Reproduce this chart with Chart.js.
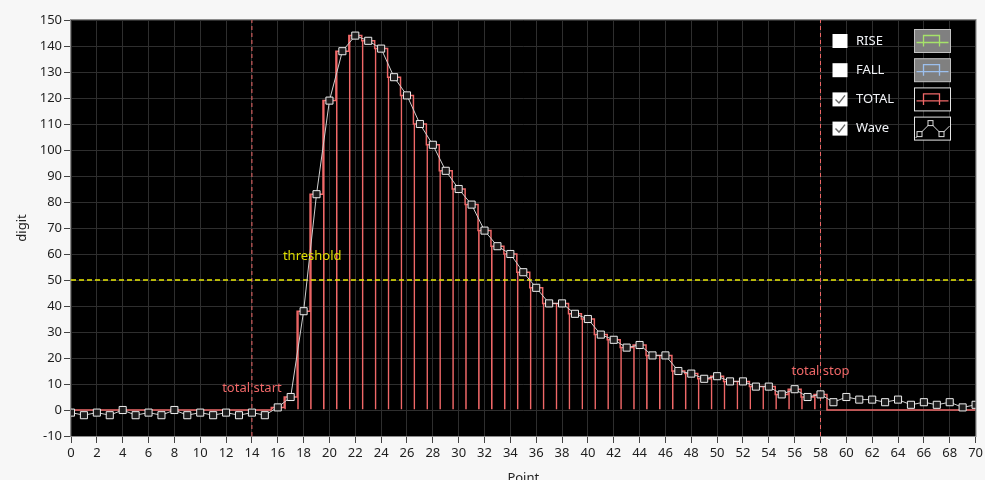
<!DOCTYPE html>
<html>
<head>
<meta charset="utf-8">
<script src="https://cdn.jsdelivr.net/npm/chart.js@4.4.1/dist/chart.umd.min.js"></script>
<style>
  html, body { margin: 0; padding: 0; background: #f7f7f7; }
  #wrap { width: 985px; height: 480px; }
</style>
</head>
<body>
<div id="wrap"><canvas id="chart" width="985" height="480"></canvas></div>
<script>
// x positions (Point)
const points = [
  0, 1, 2, 3, 4, 5, 6, 7, 8, 9,
  10, 11, 12, 13, 14, 15, 16, 17, 18, 19,
  20, 21, 22, 23, 24, 25, 26, 27, 28, 29,
  30, 31, 32, 33, 34, 35, 36, 37, 38, 39,
  40, 41, 42, 43, 44, 45, 46, 47, 48, 49,
  50, 51, 52, 53, 54, 55, 56, 57, 58, 59,
  60, 61, 62, 63, 64, 65, 66, 67, 68, 69,
  70
];

// raw waveform (digit)
const waveValues = [
  -1, -2, -1, -2, 0, -2, -1, -2, 0, -2,
  -1, -2, -1, -2, -1, -2, 1, 5, 38, 83,
  119, 138, 144, 142, 139, 128, 121, 110, 102, 92,
  85, 79, 69, 63, 60, 53, 47, 41, 41, 37,
  35, 29, 27, 24, 25, 21, 21, 15, 14, 12,
  13, 11, 11, 9, 9, 6, 8, 5, 6, 3,
  5, 4, 4, 3, 4, 2, 3, 2, 3, 1,
  2
];

// TOTAL integration window (zero outside start..stop)
const totalValues = [
  0, 0, 0, 0, 0, 0, 0, 0, 0, 0,
  0, 0, 0, 0, 0, 0, 1, 5, 38, 83,
  119, 138, 144, 142, 139, 128, 121, 110, 102, 92,
  85, 79, 69, 63, 60, 53, 47, 41, 41, 37,
  35, 29, 27, 24, 25, 21, 21, 15, 14, 12,
  13, 11, 11, 9, 9, 6, 8, 5, 6, 0,
  0, 0, 0, 0, 0, 0, 0, 0, 0, 0,
  0
];

const thresholdValue = 50;
const totalStart = 14;
const totalStop = 58;

const legendLabels = ['RISE', 'FALL', 'TOTAL', 'Wave'];
const legendChecked = [false, false, true, true];

const RED = '#f06868';
const FONT = '"Noto Sans", "Open Sans", sans-serif';

const panelPlugin = {
  id: 'panel',
  beforeDraw(chart) {
    const { ctx, chartArea: a } = chart;
    ctx.save();
    ctx.fillStyle = '#f7f7f7';
    ctx.fillRect(0, 0, chart.width, chart.height);
    ctx.fillStyle = '#000';
    ctx.fillRect(a.left, a.top, a.right - a.left, a.bottom - a.top);
    ctx.restore();
  },
  afterDatasetsDraw(chart) {
    const { ctx, scales: { x, y } } = chart;
    ctx.save();
    ctx.font = '13px ' + FONT;
    ctx.textBaseline = 'middle';
    ctx.fillStyle = '#dede00';
    ctx.textAlign = 'left';
    ctx.fillText('threshold', x.getPixelForValue(16.4), y.getPixelForValue(thresholdValue) - 24);
    ctx.fillStyle = RED;
    ctx.textAlign = 'center';
    ctx.fillText('total start', x.getPixelForValue(totalStart), y.getPixelForValue(8.5));
    ctx.fillText('total stop', x.getPixelForValue(totalStop), y.getPixelForValue(15));
    ctx.restore();
  },
  afterDraw(chart) {
    const { ctx, chartArea: a } = chart;
    ctx.save();
    // plot frame
    ctx.strokeStyle = '#8c8c8c';
    ctx.lineWidth = 1;
    ctx.strokeRect(a.left - 0.5, a.top - 0.5, a.right - a.left + 1, a.bottom - a.top + 1);

    // axis titles
    ctx.fillStyle = '#222';
    ctx.font = '13px ' + FONT;
    ctx.textAlign = 'center';
    ctx.textBaseline = 'middle';
    ctx.fillText('Point', (a.left + a.right) / 2, 478);
    ctx.save();
    ctx.translate(22, (a.top + a.bottom) / 2);
    ctx.rotate(-Math.PI / 2);
    ctx.fillText('digit', 0, 0);
    ctx.restore();

    // legend: checkbox + label + plot icon
    const rowH = 29.2;
    legendLabels.forEach((label, i) => {
      const cy = 41 + i * rowH;
      // checkbox
      ctx.fillStyle = '#fff';
      ctx.fillRect(832.5, cy - 7, 15, 14);
      if (legendChecked[i]) {
        ctx.strokeStyle = '#666';
        ctx.lineWidth = 1.4;
        ctx.beginPath();
        ctx.moveTo(835.5, cy);
        ctx.lineTo(839, cy + 3.5);
        ctx.lineTo(845, cy - 4);
        ctx.stroke();
      }
      // label
      ctx.fillStyle = '#f2f4f8';
      ctx.font = '13px ' + FONT;
      ctx.textAlign = 'left';
      ctx.fillText(label, 856, cy);
      // icon
      const bx = 914.5, by = cy - 11.5, bw = 36, bh = 23;
      const grey = i < 2;
      ctx.fillStyle = grey ? '#808080' : '#000';
      ctx.fillRect(bx, by, bw, bh);
      ctx.strokeStyle = grey ? '#c4c4c4' : '#e6e6e6';
      ctx.lineWidth = 1;
      ctx.strokeRect(bx, by, bw, bh);
      if (i < 3) {
        ctx.strokeStyle = ['#a6e36a', '#9cc0ee', RED][i];
        ctx.lineWidth = 1.3;
        ctx.beginPath();
        ctx.moveTo(bx + 2, by + 13);
        ctx.lineTo(bx + 34, by + 13);
        ctx.moveTo(bx + 9, by + 17);
        ctx.lineTo(bx + 9, by + 6);
        ctx.lineTo(bx + 25, by + 6);
        ctx.lineTo(bx + 25, by + 17);
        ctx.stroke();
      } else {
        ctx.strokeStyle = '#ddd';
        ctx.lineWidth = 1;
        ctx.beginPath();
        ctx.moveTo(bx + 1, by + 21);
        ctx.lineTo(bx + 5, by + 17);
        ctx.lineTo(bx + 16, by + 6);
        ctx.lineTo(bx + 27, by + 17);
        ctx.lineTo(bx + 35, by + 9);
        ctx.stroke();
        ctx.fillStyle = '#000';
        [[5, 17], [16, 6], [27, 17]].forEach(([dx, dy]) => {
          ctx.fillRect(bx + dx - 2.5, by + dy - 2.5, 5, 5);
          ctx.strokeRect(bx + dx - 2.5, by + dy - 2.5, 5, 5);
        });
      }
    });
    ctx.restore();
  }
};

const ctx = document.getElementById('chart').getContext('2d');

new Chart(ctx, {
  type: 'line',
  data: {
    labels: points,
    datasets: [
      {
        label: 'Wave',
        data: waveValues,
        borderColor: '#d0d0d0',
        borderWidth: 1,
        pointStyle: 'rect',
        pointRadius: 5,
        pointBorderColor: '#eeeeee',
        pointBackgroundColor: '#1c1c1c',
        pointBorderWidth: 1,
        order: 0,
      },
      {
        label: 'threshold',
        data: [{ x: 0, y: thresholdValue }, { x: 70, y: thresholdValue }],
        borderColor: '#eaea00',
        borderWidth: 1.5,
        borderDash: [5, 3],
        pointRadius: 0,
        order: 1,
      },
      {
        label: 'total start',
        data: [{ x: totalStart, y: -10 }, { x: totalStart, y: 150 }],
        borderColor: RED,
        borderWidth: 1,
        borderDash: [4, 3],
        pointRadius: 0,
        order: 1,
      },
      {
        label: 'total stop',
        data: [{ x: totalStop, y: -10 }, { x: totalStop, y: 150 }],
        borderColor: RED,
        borderWidth: 1,
        borderDash: [4, 3],
        pointRadius: 0,
        order: 1,
      },
      {
        label: 'TOTAL',
        data: totalValues,
        borderColor: RED,
        borderWidth: 1.5,
        stepped: 'middle',
        pointRadius: 0,
        order: 2,
      },
      {
        type: 'bar',
        label: 'TOTAL bars',
        data: totalValues,
        borderColor: RED,
        backgroundColor: 'rgba(0,0,0,0)',
        borderWidth: { left: 1.6, right: 0, top: 0, bottom: 0 },
        inflateAmount: 0,
        barPercentage: 1,
        categoryPercentage: 1,
        order: 3,
      },
    ],
  },
  options: {
    responsive: false,
    animation: false,
    events: [],
    layout: { padding: { top: 20, right: 8, left: 0, bottom: 0 } },
    plugins: {
      legend: { display: false },
      tooltip: { enabled: false },
    },
    scales: {
      x: {
        type: 'linear',
        min: 0,
        max: 70,
        offset: false,
        afterFit: (scale) => { scale.height = 44; },
        grid: { color: '#2e2e2e', tickColor: '#444', tickLength: 7, offset: false },
        border: { display: false },
        ticks: {
          stepSize: 2,
          autoSkip: false,
          maxRotation: 0,
          color: '#1e1e1e',
          padding: 2,
          font: { family: FONT, size: 13 },
        },
      },
      y: {
        min: -10,
        max: 150,
        afterFit: (scale) => { scale.width = 71; },
        grid: { color: '#2e2e2e', tickColor: '#444', tickLength: 7 },
        border: { display: false },
        ticks: {
          stepSize: 10,
          color: '#1e1e1e',
          padding: 2,
          font: { family: FONT, size: 13 },
        },
      },
    },
  },
  plugins: [panelPlugin],
});
</script>
</body>
</html>
